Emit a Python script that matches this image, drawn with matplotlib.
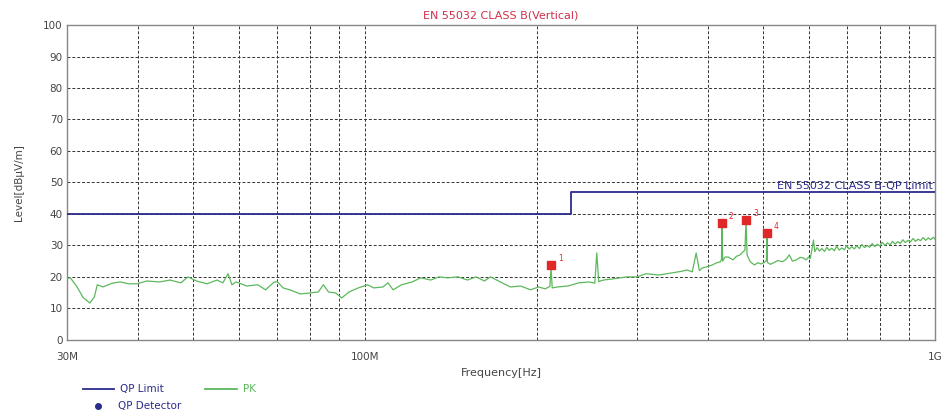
import numpy as np
import matplotlib
matplotlib.use("Agg")
import matplotlib.pyplot as plt
from matplotlib.lines import Line2D

plt.rcParams["font.family"] = ["DejaVu Sans"]

# PK trace, frequency in MHz and level in dBuV/m
pk_freq = [30.0, 30.4, 31.2, 32.0, 32.9, 33.5, 33.9, 34.7, 36.0, 37.2, 38.5, 39.8,
           41.4, 43.6, 45.5, 47.5, 48.9, 50.6, 52.8, 55.0, 56.3, 57.5, 58.4, 59.4,
           62.0, 64.8, 66.9, 69.3, 70.2, 71.8, 73.8, 76.9, 80.1, 82.8, 84.5, 86.3,
           88.8, 91.0, 93.7, 97.3, 101.0, 103.6, 107.5, 109.7, 112.0, 115.9, 121.0,
           125.2, 130.4, 134.8, 139.5, 145.6, 151.3, 156.5, 162.0, 166.0, 172.7,
           179.9, 187.4, 195.2, 201.6, 207.0, 211.0, 212.0, 213.0, 217.6, 227.0,
           237.0, 247.0, 253.0, 255.0, 257.0, 262.0, 273.0, 288.0, 300.0, 311.0,
           328.0, 346.0, 360.0, 367.0, 375.0, 381.0, 386.0, 391.0, 398.0, 407.0,
           414.0, 420.0, 422.0, 423.0, 424.0, 428.0, 434.0, 442.0, 448.0, 455.0,
           460.0, 464.0, 466.0, 468.0, 474.0, 482.0, 489.0, 495.0, 502.0, 506.0,
           507.0, 508.0, 514.0, 520.0, 530.0, 540.0, 548.0, 555.0, 562.0, 571.0,
           580.0, 588.0, 594.0, 600.0, 604.0, 608.0, 612.0,
           615, 621, 627, 633, 640, 646, 652, 659, 666, 672, 679, 686, 693, 700,
           707, 714, 722, 729, 737, 744, 752, 760, 768, 776, 784, 792, 800, 808,
           817, 825, 834, 842, 851, 860, 869, 878, 887, 896, 905, 915, 924, 934,
           943, 953, 963, 973, 983, 993, 1000]
pk_level = [19.5, 19.7, 17.0, 13.5, 11.7, 13.6, 17.5, 16.8, 18.0, 18.4, 17.8, 17.8,
            18.7, 18.4, 19.0, 18.1, 20.0, 18.7, 17.8, 19.0, 18.1, 21.0, 17.5, 18.4,
            17.1, 17.5, 15.9, 18.4, 18.4, 16.5, 15.9, 14.6, 14.9, 15.2, 17.5, 15.2,
            14.9, 13.3, 15.2, 16.5, 17.5, 16.5, 16.8, 18.1, 15.9, 17.5, 18.4,
            19.7, 19.0, 20.0, 19.7, 20.0, 19.0, 20.0, 18.7, 20.0, 18.4,
            16.8, 17.1, 15.9, 16.8, 16.2, 17.0, 22.9, 16.5, 16.8, 17.1,
            18.1, 18.4, 18.0, 27.6, 18.5, 19.0, 19.4, 20.0, 20.0, 21.0,
            20.6, 21.3, 21.8, 22.2, 21.6, 27.6, 22.0, 22.9, 23.2, 23.8,
            24.5, 24.8, 25.5, 37.1, 25.0, 26.3, 26.3, 25.4, 26.5, 27.0,
            27.9, 28.5, 38.1, 27.0, 24.8, 23.8, 24.5, 24.1, 24.6, 25.2,
            34.0, 24.6, 24.0, 24.4, 25.2, 24.8, 25.6, 27.0, 25.0, 25.4,
            26.2, 26.0, 25.4, 26.3, 25.8, 28.6, 31.7,
            28.0, 29.3, 28.2, 29.0, 28.1, 29.4, 28.4, 29.1, 28.3, 29.8, 28.5, 29.2,
            28.6, 30.0, 28.8, 29.6, 28.9, 29.9, 29.0, 30.3, 29.3, 30.0, 29.4, 30.6,
            29.6, 30.4, 29.8, 31.0, 30.0, 30.8, 30.2, 31.3, 30.4, 31.2, 30.6, 31.8,
            30.9, 31.6, 31.1, 32.2, 31.3, 32.0, 31.5, 32.5, 31.6, 32.4, 31.8, 32.6,
            32.0]

# QP limit (step at 230 MHz)
limit_freq = [30, 230, 230, 1000]
limit_level = [40, 40, 47, 47]

# QP detector results (marker number, frequency MHz, level)
qp_ids = ["1", "2", "3", "4"]
qp_freq = [212.0, 423.0, 466.0, 507.0]
qp_level = [23.8, 37.1, 38.1, 34.0]

NAVY = "#2b2b8c"
GREEN = "#5cb85c"
RED = "#e02828"
GRAY = "#444444"

fig = plt.figure(figsize=(9.44, 4.17), dpi=100)
ax = fig.add_axes([0.071, 0.185, 0.9195, 0.755])

ax.plot(pk_freq, pk_level, color=GREEN, linewidth=0.9, zorder=3)
ax.plot(limit_freq, limit_level, color=NAVY, linewidth=1.3, zorder=4)
ax.scatter(qp_freq, qp_level, marker="s", s=30, color=RED, zorder=5)
for n, f, l in zip(qp_ids, qp_freq, qp_level):
    ax.annotate(n, (f, l), xytext=(5, 3), textcoords="offset points",
                fontsize=5.5, color=RED)

ax.set_xscale("log")
ax.set_xlim(30, 1000)
ax.set_ylim(0, 100)
ax.set_yticks(np.arange(0, 101, 10))
ax.set_xticks([30, 100, 1000])
ax.set_xticklabels(["30M", "100M", "1G"])
ax.set_xticks([40, 50, 60, 70, 80, 90, 200, 300, 400, 500, 600, 700, 800, 900],
              minor=True)
ax.xaxis.set_minor_formatter(matplotlib.ticker.NullFormatter())
ax.tick_params(axis="both", which="both", length=0, labelsize=7.5, labelcolor=GRAY)
ax.tick_params(axis="x", pad=9)
ax.tick_params(axis="y", pad=3)
ax.grid(True, which="both", color="#333333", linestyle=(0, (3, 2)), linewidth=0.7)
for s in ax.spines.values():
    s.set_color("#888888")
    s.set_linewidth(1.0)

ax.set_title("EN 55032 CLASS B(Vertical)", fontsize=8, color="#d0304a", pad=5)
ax.set_xlabel("Frequency[Hz]", fontsize=8, color=GRAY, labelpad=4)
ax.set_ylabel("Level[dB\u00b5V/m]", fontsize=7.5, color=GRAY, labelpad=14)
ax.text(0.998, 47.3, "EN 55032 CLASS B-QP Limit", transform=ax.get_yaxis_transform(),
        ha="right", va="bottom", fontsize=8, color=NAVY)

handles = [Line2D([0], [0], color=NAVY, lw=1.3),
           Line2D([0], [0], color=GREEN, lw=1.3),
           Line2D([0], [0], marker="o", color=NAVY, lw=0, markersize=4)]
fig.legend(handles[:2], ["QP Limit", "PK"], loc="upper left", ncol=2,
           bbox_to_anchor=(0.083, 0.088), frameon=False, fontsize=7.5,
           handlelength=3, columnspacing=4, borderaxespad=0, handletextpad=0.6,
           labelcolor=[NAVY, GREEN])
fig.legend(handles[2:], ["QP Detector"], loc="upper left",
           bbox_to_anchor=(0.083, 0.048), frameon=False, fontsize=7.5,
           handlelength=3, borderaxespad=0, handletextpad=0.4, labelcolor=NAVY)

fig.savefig("out.png", dpi=100)
